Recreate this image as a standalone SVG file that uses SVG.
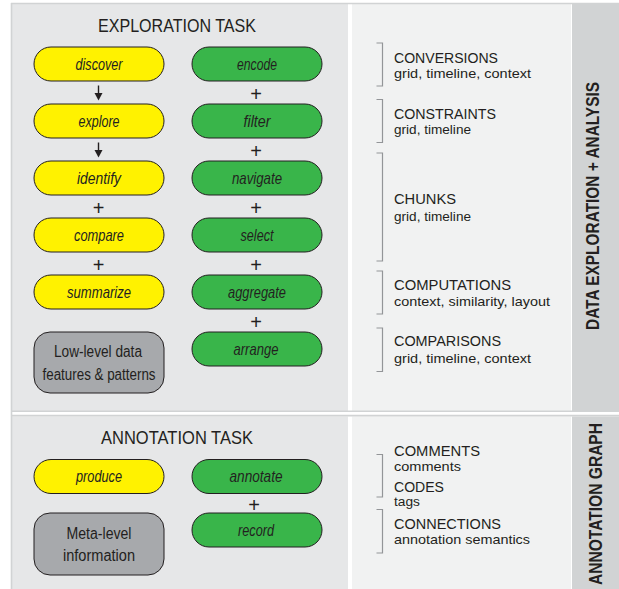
<svg xmlns="http://www.w3.org/2000/svg" width="619" height="589" viewBox="0 0 619 589">
<style>
.bgl{fill:#e6e7e8}
.bgm{fill:#f1f2f2}
.bgr{fill:#d1d3d4}
.sep{stroke:#d1d3d4;stroke-width:1.6;fill:none}
.y{fill:#fff200;stroke:#231f20;stroke-width:1}
.g{fill:#39b54a;stroke:#231f20;stroke-width:1}
.k{fill:#a7a9ac;stroke:#231f20;stroke-width:1}
.nt{font-family:"Liberation Sans",Arial,sans-serif;font-style:italic;font-size:16.5px;fill:#231f20;text-anchor:middle}
.kt{font-family:"Liberation Sans",Arial,sans-serif;font-size:16px;fill:#231f20;text-anchor:middle}
.title{font-family:"Liberation Sans",Arial,sans-serif;font-size:18px;fill:#231f20;text-anchor:middle}
.h{font-family:"Liberation Sans",Arial,sans-serif;font-size:14px;fill:#231f20}
.s{font-family:"Liberation Sans",Arial,sans-serif;font-size:13.5px;fill:#231f20}
.side{font-family:"Liberation Sans",Arial,sans-serif;font-weight:bold;font-size:18px;fill:#231f20;text-anchor:middle}
.plus{font-family:"Liberation Sans",Arial,sans-serif;font-size:20px;fill:#231f20;text-anchor:middle}
.br{stroke:#939598;stroke-width:1.2;fill:none}
.ar{stroke:#231f20;stroke-width:1.4}
</style>
<rect x="0" y="0" width="619" height="589" fill="#ffffff"/>
<g id="panels">
<rect class="bgl" x="12" y="4" width="336" height="407"/>
<rect class="bgm" x="352" y="4" width="219" height="407"/>
<rect class="bgr" x="572" y="4" width="47" height="407"/>
<rect class="bgl" x="12" y="416.5" width="336" height="172.5"/>
<rect class="bgm" x="352" y="416.5" width="219" height="172.5"/>
<rect class="bgr" x="572" y="416.5" width="47" height="172.5"/>
<line class="sep" x1="11" y1="3.5" x2="619" y2="3.5"/>
<line class="sep" x1="11.5" y1="3" x2="11.5" y2="589"/>
<line class="sep" x1="11" y1="411.3" x2="619" y2="411.3"/>
<line class="sep" x1="11" y1="415.6" x2="619" y2="415.6"/>
</g>
<text class="title" x="177" y="31.5" textLength="158" lengthAdjust="spacingAndGlyphs">EXPLORATION TASK</text>
<text class="title" x="177" y="444" textLength="152" lengthAdjust="spacingAndGlyphs">ANNOTATION TASK</text>
<g id="discover"><rect class="y" x="34" y="47" width="130" height="34" rx="17"/><text class="nt" x="99" y="69.5" textLength="47" lengthAdjust="spacingAndGlyphs">discover</text></g>
<g id="explore"><rect class="y" x="34" y="104" width="130" height="34" rx="17"/><text class="nt" x="99" y="126.5" textLength="41" lengthAdjust="spacingAndGlyphs">explore</text></g>
<g id="identify"><rect class="y" x="34" y="161" width="130" height="34" rx="17"/><text class="nt" x="99" y="183.5" textLength="44" lengthAdjust="spacingAndGlyphs">identify</text></g>
<g id="compare"><rect class="y" x="34" y="218" width="130" height="34" rx="17"/><text class="nt" x="99" y="240.5" textLength="50" lengthAdjust="spacingAndGlyphs">compare</text></g>
<g id="summarize"><rect class="y" x="34" y="275" width="130" height="34" rx="17"/><text class="nt" x="99" y="297.5" textLength="64" lengthAdjust="spacingAndGlyphs">summarize</text></g>
<g id="lowlevel"><rect class="k" x="34" y="332" width="130" height="61" rx="16"/><text class="kt" x="98" y="357" textLength="88" lengthAdjust="spacingAndGlyphs">Low-level data</text><text class="kt" x="99" y="379.5" textLength="113" lengthAdjust="spacingAndGlyphs">features &amp; patterns</text></g>
<g id="encode"><rect class="g" x="192" y="47" width="130" height="34" rx="17"/><text class="nt" x="257" y="69.5" textLength="40" lengthAdjust="spacingAndGlyphs">encode</text></g>
<g id="filter"><rect class="g" x="192" y="104" width="130" height="34" rx="17"/><text class="nt" x="257" y="126.5" textLength="27" lengthAdjust="spacingAndGlyphs">filter</text></g>
<g id="navigate"><rect class="g" x="192" y="161" width="130" height="34" rx="17"/><text class="nt" x="257" y="183.5" textLength="50" lengthAdjust="spacingAndGlyphs">navigate</text></g>
<g id="select"><rect class="g" x="192" y="218" width="130" height="34" rx="17"/><text class="nt" x="257" y="240.5" textLength="33" lengthAdjust="spacingAndGlyphs">select</text></g>
<g id="aggregate"><rect class="g" x="192" y="275" width="130" height="34" rx="17"/><text class="nt" x="257" y="297.5" textLength="58" lengthAdjust="spacingAndGlyphs">aggregate</text></g>
<g id="arrange"><rect class="g" x="192" y="332" width="130" height="34" rx="17"/><text class="nt" x="256" y="354.5" textLength="45" lengthAdjust="spacingAndGlyphs">arrange</text></g>
<g id="produce"><rect class="y" x="34" y="459.5" width="130" height="34" rx="17"/><text class="nt" x="99" y="482" textLength="46" lengthAdjust="spacingAndGlyphs">produce</text></g>
<g id="meta"><rect class="k" x="34" y="513" width="130" height="62" rx="16"/><text class="kt" x="99" y="538.5" textLength="65" lengthAdjust="spacingAndGlyphs">Meta-level</text><text class="kt" x="99" y="561" textLength="72" lengthAdjust="spacingAndGlyphs">information</text></g>
<g id="annotate"><rect class="g" x="192" y="459.5" width="130" height="34" rx="17"/><text class="nt" x="256" y="482" textLength="53" lengthAdjust="spacingAndGlyphs">annotate</text></g>
<g id="record"><rect class="g" x="192" y="513" width="130" height="34" rx="17"/><text class="nt" x="256" y="535.5" textLength="36" lengthAdjust="spacingAndGlyphs">record</text></g>
<g id="connectors">
<line class="ar" x1="98.5" y1="85.5" x2="98.5" y2="94"/>
<path d="M94.5,93 L102.5,93 L98.5,100.5 Z" fill="#231f20"/>
<line class="ar" x1="98.5" y1="142.5" x2="98.5" y2="151"/>
<path d="M94.5,150 L102.5,150 L98.5,157.5 Z" fill="#231f20"/>
<text class="plus" x="98.5" y="215">+</text>
<text class="plus" x="98.5" y="272">+</text>
<text class="plus" x="256" y="101">+</text>
<text class="plus" x="256" y="158">+</text>
<text class="plus" x="256" y="215">+</text>
<text class="plus" x="256" y="272">+</text>
<text class="plus" x="256" y="329">+</text>
<text class="plus" x="254" y="512">+</text>
</g>
<g id="brackets">
<path class="br" d="M376.5,43 H382.5 V86 H376.5"/>
<path class="br" d="M376.5,99.5 H382.5 V142.5 H376.5"/>
<path class="br" d="M376.5,153 H382.5 V261 H376.5"/>
<path class="br" d="M376.5,271 H382.5 V314 H376.5"/>
<path class="br" d="M376.5,328 H382.5 V371.5 H376.5"/>
<path class="br" d="M376.5,454.5 H382.5 V497 H376.5"/>
<path class="br" d="M376.5,509.5 H382.5 V553 H376.5"/>
</g>
<g id="labels">
<text class="h" x="394" y="62.5" textLength="104" lengthAdjust="spacingAndGlyphs">CONVERSIONS</text>
<text class="s" x="394" y="77.5" textLength="137" lengthAdjust="spacingAndGlyphs">grid, timeline, context</text>
<text class="h" x="394" y="119" textLength="102" lengthAdjust="spacingAndGlyphs">CONSTRAINTS</text>
<text class="s" x="394" y="134" textLength="77" lengthAdjust="spacingAndGlyphs">grid, timeline</text>
<text class="h" x="394" y="204" textLength="62" lengthAdjust="spacingAndGlyphs">CHUNKS</text>
<text class="s" x="394" y="220.5" textLength="77" lengthAdjust="spacingAndGlyphs">grid, timeline</text>
<text class="h" x="394" y="289.5" textLength="117" lengthAdjust="spacingAndGlyphs">COMPUTATIONS</text>
<text class="s" x="394" y="305.5" textLength="156" lengthAdjust="spacingAndGlyphs">context, similarity, layout</text>
<text class="h" x="394" y="346" textLength="107" lengthAdjust="spacingAndGlyphs">COMPARISONS</text>
<text class="s" x="394" y="363" textLength="137" lengthAdjust="spacingAndGlyphs">grid, timeline, context</text>
<text class="h" x="394" y="455.5" textLength="86" lengthAdjust="spacingAndGlyphs">COMMENTS</text>
<text class="s" x="394" y="471" textLength="67" lengthAdjust="spacingAndGlyphs">comments</text>
<text class="h" x="394" y="491.5" textLength="50" lengthAdjust="spacingAndGlyphs">CODES</text>
<text class="s" x="394" y="505.5" style="font-size:12.5px" textLength="26" lengthAdjust="spacingAndGlyphs">tags</text>
<text class="h" x="394" y="529" textLength="107" lengthAdjust="spacingAndGlyphs">CONNECTIONS</text>
<text class="s" x="394" y="543.5" textLength="136" lengthAdjust="spacingAndGlyphs">annotation semantics</text>
</g>
<text class="side" transform="translate(599 206) rotate(-90)" textLength="248" lengthAdjust="spacingAndGlyphs">DATA EXPLORATION + ANALYSIS</text>
<text class="side" transform="translate(601.5 504) rotate(-90)" textLength="162" lengthAdjust="spacingAndGlyphs">ANNOTATION GRAPH</text>
</svg>
